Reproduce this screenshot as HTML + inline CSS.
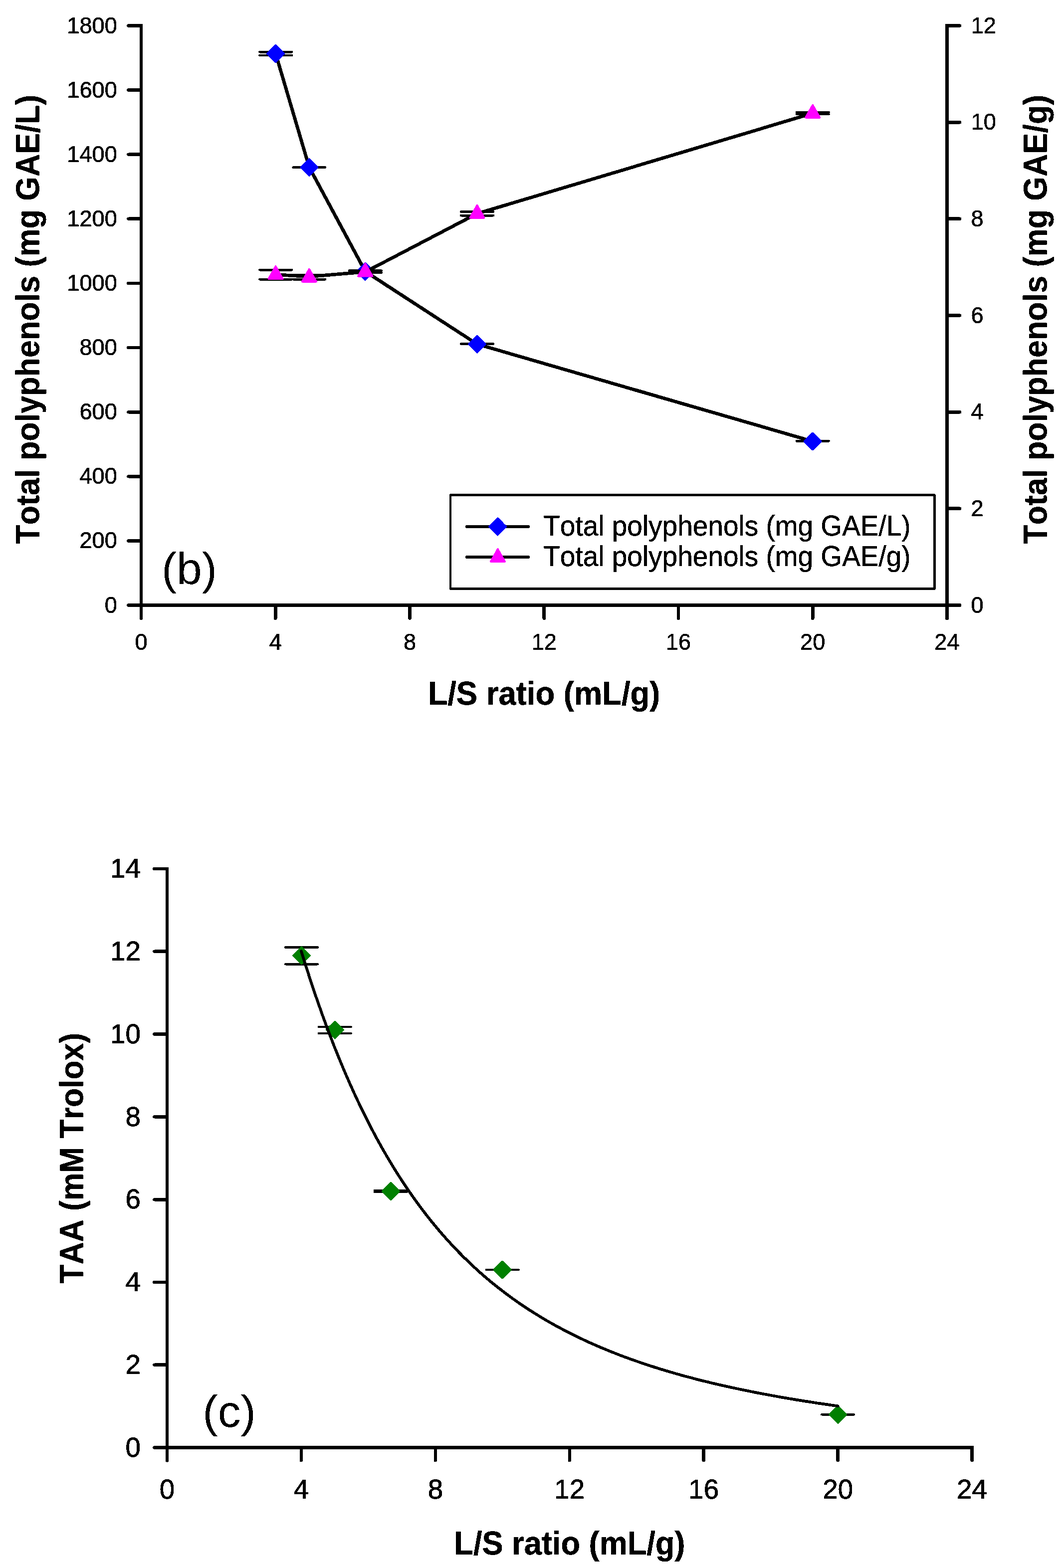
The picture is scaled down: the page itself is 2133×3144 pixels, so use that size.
<!DOCTYPE html>
<html lang="en"><head><meta charset="utf-8"><title>Total polyphenols and TAA vs L/S ratio</title>
<style>html,body{margin:0;padding:0;background:#fff}svg{display:block}text{font-family:"Liberation Sans",sans-serif;font-kerning:none;fill:#000}</style></head><body>
<svg width="2133" height="3144" viewBox="0 0 2133 3144">
<rect width="2133" height="3144" fill="#fff"/>
<defs><filter id="crisp" filterUnits="userSpaceOnUse" x="0" y="0" width="2133" height="3144" color-interpolation-filters="sRGB"><feComponentTransfer><feFuncA type="discrete" tableValues="0 1"/></feComponentTransfer></filter></defs>
<g filter="url(#crisp)">
<g id="chart-b">
<line x1="283" y1="51.5" x2="283" y2="1239.75" stroke="#000" stroke-width="6.5" stroke-linecap="round"/>
<rect x="279.75" y="48.25" width="6.5" height="6.5" fill="#000"/>
<line x1="1898.5" y1="51.5" x2="1898.5" y2="1239.75" stroke="#000" stroke-width="6.5" stroke-linecap="round"/>
<rect x="1895.25" y="48.25" width="6.5" height="6.5" fill="#000"/>
<line x1="257.5" y1="1213.5" x2="1924" y2="1213.5" stroke="#000" stroke-width="6.5" stroke-linecap="round"/>
<line x1="257.5" y1="1213.5" x2="282" y2="1213.5" stroke="#000" stroke-width="6.5" stroke-linecap="round"/>
<text transform="translate(234.9 1228.5) scale(0.4521 0.4700)" font-size="100" text-anchor="end" stroke="#000" stroke-width="1.1" stroke-linejoin="round">0</text>
<line x1="257.5" y1="1084.39" x2="282" y2="1084.39" stroke="#000" stroke-width="6.5" stroke-linecap="round"/>
<text transform="translate(234.9 1099.39) scale(0.4521 0.4700)" font-size="100" text-anchor="end" stroke="#000" stroke-width="1.1" stroke-linejoin="round">200</text>
<line x1="257.5" y1="955.28" x2="282" y2="955.28" stroke="#000" stroke-width="6.5" stroke-linecap="round"/>
<text transform="translate(234.9 970.28) scale(0.4521 0.4700)" font-size="100" text-anchor="end" stroke="#000" stroke-width="1.1" stroke-linejoin="round">400</text>
<line x1="257.5" y1="826.17" x2="282" y2="826.17" stroke="#000" stroke-width="6.5" stroke-linecap="round"/>
<text transform="translate(234.9 841.17) scale(0.4521 0.4700)" font-size="100" text-anchor="end" stroke="#000" stroke-width="1.1" stroke-linejoin="round">600</text>
<line x1="257.5" y1="697.06" x2="282" y2="697.06" stroke="#000" stroke-width="6.5" stroke-linecap="round"/>
<text transform="translate(234.9 712.06) scale(0.4521 0.4700)" font-size="100" text-anchor="end" stroke="#000" stroke-width="1.1" stroke-linejoin="round">800</text>
<line x1="257.5" y1="567.94" x2="282" y2="567.94" stroke="#000" stroke-width="6.5" stroke-linecap="round"/>
<text transform="translate(234.9 582.94) scale(0.4521 0.4700)" font-size="100" text-anchor="end" stroke="#000" stroke-width="1.1" stroke-linejoin="round">1000</text>
<line x1="257.5" y1="438.83" x2="282" y2="438.83" stroke="#000" stroke-width="6.5" stroke-linecap="round"/>
<text transform="translate(234.9 453.83) scale(0.4521 0.4700)" font-size="100" text-anchor="end" stroke="#000" stroke-width="1.1" stroke-linejoin="round">1200</text>
<line x1="257.5" y1="309.72" x2="282" y2="309.72" stroke="#000" stroke-width="6.5" stroke-linecap="round"/>
<text transform="translate(234.9 324.72) scale(0.4521 0.4700)" font-size="100" text-anchor="end" stroke="#000" stroke-width="1.1" stroke-linejoin="round">1400</text>
<line x1="257.5" y1="180.61" x2="282" y2="180.61" stroke="#000" stroke-width="6.5" stroke-linecap="round"/>
<text transform="translate(234.9 195.61) scale(0.4521 0.4700)" font-size="100" text-anchor="end" stroke="#000" stroke-width="1.1" stroke-linejoin="round">1600</text>
<line x1="257.5" y1="51.5" x2="282" y2="51.5" stroke="#000" stroke-width="6.5" stroke-linecap="round"/>
<text transform="translate(234.9 66.5) scale(0.4521 0.4700)" font-size="100" text-anchor="end" stroke="#000" stroke-width="1.1" stroke-linejoin="round">1800</text>
<line x1="1899.5" y1="1213.5" x2="1924" y2="1213.5" stroke="#000" stroke-width="6.5" stroke-linecap="round"/>
<text transform="translate(1946.5 1228.5) scale(0.4521 0.4700)" font-size="100" text-anchor="start" stroke="#000" stroke-width="1.1" stroke-linejoin="round">0</text>
<line x1="1899.5" y1="1019.83" x2="1924" y2="1019.83" stroke="#000" stroke-width="6.5" stroke-linecap="round"/>
<text transform="translate(1946.5 1034.83) scale(0.4521 0.4700)" font-size="100" text-anchor="start" stroke="#000" stroke-width="1.1" stroke-linejoin="round">2</text>
<line x1="1899.5" y1="826.17" x2="1924" y2="826.17" stroke="#000" stroke-width="6.5" stroke-linecap="round"/>
<text transform="translate(1946.5 841.17) scale(0.4521 0.4700)" font-size="100" text-anchor="start" stroke="#000" stroke-width="1.1" stroke-linejoin="round">4</text>
<line x1="1899.5" y1="632.5" x2="1924" y2="632.5" stroke="#000" stroke-width="6.5" stroke-linecap="round"/>
<text transform="translate(1946.5 647.5) scale(0.4521 0.4700)" font-size="100" text-anchor="start" stroke="#000" stroke-width="1.1" stroke-linejoin="round">6</text>
<line x1="1899.5" y1="438.83" x2="1924" y2="438.83" stroke="#000" stroke-width="6.5" stroke-linecap="round"/>
<text transform="translate(1946.5 453.83) scale(0.4521 0.4700)" font-size="100" text-anchor="start" stroke="#000" stroke-width="1.1" stroke-linejoin="round">8</text>
<line x1="1899.5" y1="245.17" x2="1924" y2="245.17" stroke="#000" stroke-width="6.5" stroke-linecap="round"/>
<text transform="translate(1946.5 260.17) scale(0.4521 0.4700)" font-size="100" text-anchor="start" stroke="#000" stroke-width="1.1" stroke-linejoin="round">10</text>
<line x1="1899.5" y1="51.5" x2="1924" y2="51.5" stroke="#000" stroke-width="6.5" stroke-linecap="round"/>
<text transform="translate(1946.5 66.5) scale(0.4521 0.4700)" font-size="100" text-anchor="start" stroke="#000" stroke-width="1.1" stroke-linejoin="round">12</text>
<line x1="283" y1="1214.5" x2="283" y2="1239.75" stroke="#000" stroke-width="6.5" stroke-linecap="round"/>
<text transform="translate(283 1303.4) scale(0.4521 0.4700)" font-size="100" text-anchor="middle" stroke="#000" stroke-width="1.1" stroke-linejoin="round">0</text>
<line x1="552.25" y1="1214.5" x2="552.25" y2="1239.75" stroke="#000" stroke-width="6.5" stroke-linecap="round"/>
<text transform="translate(552.25 1303.4) scale(0.4521 0.4700)" font-size="100" text-anchor="middle" stroke="#000" stroke-width="1.1" stroke-linejoin="round">4</text>
<line x1="821.5" y1="1214.5" x2="821.5" y2="1239.75" stroke="#000" stroke-width="6.5" stroke-linecap="round"/>
<text transform="translate(821.5 1303.4) scale(0.4521 0.4700)" font-size="100" text-anchor="middle" stroke="#000" stroke-width="1.1" stroke-linejoin="round">8</text>
<line x1="1090.75" y1="1214.5" x2="1090.75" y2="1239.75" stroke="#000" stroke-width="6.5" stroke-linecap="round"/>
<text transform="translate(1090.75 1303.4) scale(0.4521 0.4700)" font-size="100" text-anchor="middle" stroke="#000" stroke-width="1.1" stroke-linejoin="round">12</text>
<line x1="1360" y1="1214.5" x2="1360" y2="1239.75" stroke="#000" stroke-width="6.5" stroke-linecap="round"/>
<text transform="translate(1360 1303.4) scale(0.4521 0.4700)" font-size="100" text-anchor="middle" stroke="#000" stroke-width="1.1" stroke-linejoin="round">16</text>
<line x1="1629.25" y1="1214.5" x2="1629.25" y2="1239.75" stroke="#000" stroke-width="6.5" stroke-linecap="round"/>
<text transform="translate(1629.25 1303.4) scale(0.4521 0.4700)" font-size="100" text-anchor="middle" stroke="#000" stroke-width="1.1" stroke-linejoin="round">20</text>
<line x1="1898.5" y1="1214.5" x2="1898.5" y2="1239.75" stroke="#000" stroke-width="6.5" stroke-linecap="round"/>
<text transform="translate(1898.5 1303.4) scale(0.4521 0.4700)" font-size="100" text-anchor="middle" stroke="#000" stroke-width="1.1" stroke-linejoin="round">24</text>
<text transform="translate(78 1090.73) rotate(-90) scale(0.6286 0.6691)" font-size="100" text-anchor="start" font-weight="bold" stroke="#000" stroke-width="0.7" stroke-linejoin="round">Total polyphenols (mg GAE/L)</text>
<text transform="translate(2098 1090.73) rotate(-90) scale(0.6286 0.6691)" font-size="100" text-anchor="start" font-weight="bold" stroke="#000" stroke-width="0.7" stroke-linejoin="round">Total polyphenols (mg GAE/g)</text>
<text transform="translate(858.52 1412.9) scale(0.6341 0.6691)" font-size="100" text-anchor="start" font-weight="bold" stroke="#000" stroke-width="0.7" stroke-linejoin="round">L/S ratio (mL/g)</text>
<text transform="translate(324.1 1171) scale(0.9075 0.8950)" font-size="100" text-anchor="start">(b)</text>
<line x1="520.3" y1="104.1" x2="584.9" y2="104.1" stroke="#000" stroke-width="4.6" stroke-linecap="round"/>
<line x1="520.3" y1="111" x2="584.9" y2="111" stroke="#000" stroke-width="4.6" stroke-linecap="round"/>
<line x1="587.6" y1="335.6" x2="652.2" y2="335.6" stroke="#000" stroke-width="4.6" stroke-linecap="round"/>
<line x1="700" y1="542.5" x2="764.6" y2="542.5" stroke="#000" stroke-width="4.6" stroke-linecap="round"/>
<line x1="700" y1="546.5" x2="764.6" y2="546.5" stroke="#000" stroke-width="4.6" stroke-linecap="round"/>
<line x1="924.2" y1="689.5" x2="988.8" y2="689.5" stroke="#000" stroke-width="4.6" stroke-linecap="round"/>
<line x1="1596.9" y1="884.4" x2="1661.5" y2="884.4" stroke="#000" stroke-width="4.6" stroke-linecap="round"/>
<polyline fill="none" stroke="#000" stroke-width="6.8" stroke-linejoin="round" stroke-linecap="round" points="552.6,107.5 619.9,335.4 732.3,544.3 956.5,690 1629.2,885"/>
<polygon points="552.6,90.8 569.3,107.5 552.6,124.2 535.9,107.5" fill="#0000ff" stroke="#0000ff" stroke-width="3.6" stroke-linejoin="round"/>
<polygon points="619.9,318.7 636.6,335.4 619.9,352.1 603.2,335.4" fill="#0000ff" stroke="#0000ff" stroke-width="3.6" stroke-linejoin="round"/>
<polygon points="732.3,527.6 749,544.3 732.3,561 715.6,544.3" fill="#0000ff" stroke="#0000ff" stroke-width="3.6" stroke-linejoin="round"/>
<polygon points="956.5,673.3 973.2,690 956.5,706.7 939.8,690" fill="#0000ff" stroke="#0000ff" stroke-width="3.6" stroke-linejoin="round"/>
<polygon points="1629.2,868.3 1645.9,885 1629.2,901.7 1612.5,885" fill="#0000ff" stroke="#0000ff" stroke-width="3.6" stroke-linejoin="round"/>
<line x1="520.3" y1="541.1" x2="584.9" y2="541.1" stroke="#000" stroke-width="4.6" stroke-linecap="round"/>
<line x1="520.3" y1="560.1" x2="584.9" y2="560.1" stroke="#000" stroke-width="4.6" stroke-linecap="round"/>
<line x1="587.6" y1="551.3" x2="652.2" y2="551.3" stroke="#000" stroke-width="4.6" stroke-linecap="round"/>
<line x1="587.6" y1="560.1" x2="652.2" y2="560.1" stroke="#000" stroke-width="4.6" stroke-linecap="round"/>
<line x1="700" y1="543" x2="764.6" y2="543" stroke="#000" stroke-width="4.6" stroke-linecap="round"/>
<line x1="700" y1="547" x2="764.6" y2="547" stroke="#000" stroke-width="4.6" stroke-linecap="round"/>
<line x1="924.2" y1="424.4" x2="988.8" y2="424.4" stroke="#000" stroke-width="4.6" stroke-linecap="round"/>
<line x1="924.2" y1="432.1" x2="988.8" y2="432.1" stroke="#000" stroke-width="4.6" stroke-linecap="round"/>
<line x1="1596.9" y1="225.3" x2="1661.5" y2="225.3" stroke="#000" stroke-width="4.6" stroke-linecap="round"/>
<line x1="1596.9" y1="228.9" x2="1661.5" y2="228.9" stroke="#000" stroke-width="4.6" stroke-linecap="round"/>
<polyline fill="none" stroke="#000" stroke-width="6.8" stroke-linejoin="round" stroke-linecap="round" points="552.6,550.6 619.9,554.6 732.3,545.2 956.5,428.3 1629.2,227.1"/>
<polygon points="552.6,533.8 566.9,559.1 538.3,559.1" fill="#ff00ff" stroke="#ff00ff" stroke-width="3.6" stroke-linejoin="round"/>
<polygon points="619.9,539.3 634.2,564.6 605.6,564.6" fill="#ff00ff" stroke="#ff00ff" stroke-width="3.6" stroke-linejoin="round"/>
<polygon points="732.3,528.4 746.6,553.7 718,553.7" fill="#ff00ff" stroke="#ff00ff" stroke-width="3.6" stroke-linejoin="round"/>
<polygon points="956.5,411.5 970.8,436.8 942.2,436.8" fill="#ff00ff" stroke="#ff00ff" stroke-width="3.6" stroke-linejoin="round"/>
<polygon points="1629.2,210.3 1643.5,235.6 1614.9,235.6" fill="#ff00ff" stroke="#ff00ff" stroke-width="3.6" stroke-linejoin="round"/>
<rect x="903" y="992.5" width="970.5" height="188.3" fill="none" stroke="#000" stroke-width="4.4" stroke-linejoin="round"/>
<line x1="936.1" y1="1055.9" x2="1058.9" y2="1055.9" stroke="#000" stroke-width="6.2" stroke-linecap="round"/>
<polygon points="997.6,1039.1 1014.4,1055.9 997.6,1072.7 980.8,1055.9" fill="#0000ff" stroke="#0000ff" stroke-width="3.6" stroke-linejoin="round"/>
<line x1="936.1" y1="1116.9" x2="1058.9" y2="1116.9" stroke="#000" stroke-width="6.2" stroke-linecap="round"/>
<polygon points="997.9,1100.8 1012.2,1126.1 983.6,1126.1" fill="#ff00ff" stroke="#ff00ff" stroke-width="3.6" stroke-linejoin="round"/>
<text transform="translate(1089.26 1074.3) scale(0.5499 0.5760)" font-size="100" text-anchor="start" stroke="#000" stroke-width="0.8" stroke-linejoin="round">Total polyphenols (mg GAE/L)</text>
<text transform="translate(1089.26 1135.2) scale(0.5499 0.5760)" font-size="100" text-anchor="start" stroke="#000" stroke-width="0.8" stroke-linejoin="round">Total polyphenols (mg GAE/g)</text>
</g>
<g id="chart-c">
<line x1="335" y1="1742" x2="335" y2="2928.25" stroke="#000" stroke-width="6.5" stroke-linecap="round"/>
<rect x="331.75" y="1738.75" width="6.5" height="6.5" fill="#000"/>
<line x1="309.5" y1="2902.5" x2="1948.6" y2="2902.5" stroke="#000" stroke-width="6.5" stroke-linecap="round"/>
<rect x="1945.35" y="2899.25" width="6.5" height="6.5" fill="#000"/>
<line x1="309.5" y1="2902.5" x2="334" y2="2902.5" stroke="#000" stroke-width="6.5" stroke-linecap="round"/>
<text transform="translate(282 2920.7) scale(0.5480 0.5570)" font-size="100" text-anchor="end" stroke="#000" stroke-width="1.5" stroke-linejoin="round">0</text>
<line x1="309.5" y1="2736.71" x2="334" y2="2736.71" stroke="#000" stroke-width="6.5" stroke-linecap="round"/>
<text transform="translate(282 2754.91) scale(0.5480 0.5570)" font-size="100" text-anchor="end" stroke="#000" stroke-width="1.5" stroke-linejoin="round">2</text>
<line x1="309.5" y1="2570.93" x2="334" y2="2570.93" stroke="#000" stroke-width="6.5" stroke-linecap="round"/>
<text transform="translate(282 2589.13) scale(0.5480 0.5570)" font-size="100" text-anchor="end" stroke="#000" stroke-width="1.5" stroke-linejoin="round">4</text>
<line x1="309.5" y1="2405.14" x2="334" y2="2405.14" stroke="#000" stroke-width="6.5" stroke-linecap="round"/>
<text transform="translate(282 2423.34) scale(0.5480 0.5570)" font-size="100" text-anchor="end" stroke="#000" stroke-width="1.5" stroke-linejoin="round">6</text>
<line x1="309.5" y1="2239.36" x2="334" y2="2239.36" stroke="#000" stroke-width="6.5" stroke-linecap="round"/>
<text transform="translate(282 2257.56) scale(0.5480 0.5570)" font-size="100" text-anchor="end" stroke="#000" stroke-width="1.5" stroke-linejoin="round">8</text>
<line x1="309.5" y1="2073.57" x2="334" y2="2073.57" stroke="#000" stroke-width="6.5" stroke-linecap="round"/>
<text transform="translate(282 2091.77) scale(0.5480 0.5570)" font-size="100" text-anchor="end" stroke="#000" stroke-width="1.5" stroke-linejoin="round">10</text>
<line x1="309.5" y1="1907.79" x2="334" y2="1907.79" stroke="#000" stroke-width="6.5" stroke-linecap="round"/>
<text transform="translate(282 1925.99) scale(0.5480 0.5570)" font-size="100" text-anchor="end" stroke="#000" stroke-width="1.5" stroke-linejoin="round">12</text>
<line x1="309.5" y1="1742" x2="334" y2="1742" stroke="#000" stroke-width="6.5" stroke-linecap="round"/>
<text transform="translate(282 1760.2) scale(0.5480 0.5570)" font-size="100" text-anchor="end" stroke="#000" stroke-width="1.5" stroke-linejoin="round">14</text>
<line x1="335" y1="2903.5" x2="335" y2="2928.25" stroke="#000" stroke-width="6.5" stroke-linecap="round"/>
<text transform="translate(335 3005.3) scale(0.5480 0.5570)" font-size="100" text-anchor="middle" stroke="#000" stroke-width="1.5" stroke-linejoin="round">0</text>
<line x1="603.93" y1="2903.5" x2="603.93" y2="2928.25" stroke="#000" stroke-width="6.5" stroke-linecap="round"/>
<text transform="translate(603.93 3005.3) scale(0.5480 0.5570)" font-size="100" text-anchor="middle" stroke="#000" stroke-width="1.5" stroke-linejoin="round">4</text>
<line x1="872.87" y1="2903.5" x2="872.87" y2="2928.25" stroke="#000" stroke-width="6.5" stroke-linecap="round"/>
<text transform="translate(872.87 3005.3) scale(0.5480 0.5570)" font-size="100" text-anchor="middle" stroke="#000" stroke-width="1.5" stroke-linejoin="round">8</text>
<line x1="1141.8" y1="2903.5" x2="1141.8" y2="2928.25" stroke="#000" stroke-width="6.5" stroke-linecap="round"/>
<text transform="translate(1141.8 3005.3) scale(0.5480 0.5570)" font-size="100" text-anchor="middle" stroke="#000" stroke-width="1.5" stroke-linejoin="round">12</text>
<line x1="1410.73" y1="2903.5" x2="1410.73" y2="2928.25" stroke="#000" stroke-width="6.5" stroke-linecap="round"/>
<text transform="translate(1410.73 3005.3) scale(0.5480 0.5570)" font-size="100" text-anchor="middle" stroke="#000" stroke-width="1.5" stroke-linejoin="round">16</text>
<line x1="1679.67" y1="2903.5" x2="1679.67" y2="2928.25" stroke="#000" stroke-width="6.5" stroke-linecap="round"/>
<text transform="translate(1679.67 3005.3) scale(0.5480 0.5570)" font-size="100" text-anchor="middle" stroke="#000" stroke-width="1.5" stroke-linejoin="round">20</text>
<line x1="1948.6" y1="2903.5" x2="1948.6" y2="2928.25" stroke="#000" stroke-width="6.5" stroke-linecap="round"/>
<text transform="translate(1948.6 3005.3) scale(0.5480 0.5570)" font-size="100" text-anchor="middle" stroke="#000" stroke-width="1.5" stroke-linejoin="round">24</text>
<text transform="translate(166 2573.62) rotate(-90) scale(0.6241 0.6691)" font-size="100" text-anchor="start" font-weight="bold" stroke="#000" stroke-width="0.7" stroke-linejoin="round">TAA (mM Trolox)</text>
<text transform="translate(910.44 3117) scale(0.6317 0.6691)" font-size="100" text-anchor="start" font-weight="bold" stroke="#000" stroke-width="0.7" stroke-linejoin="round">L/S ratio (mL/g)</text>
<text transform="translate(406.2 2861) scale(0.9160 0.8950)" font-size="100" text-anchor="start">(c)</text>
<line x1="572.2" y1="1899.4" x2="636.8" y2="1899.4" stroke="#000" stroke-width="4.6" stroke-linecap="round"/>
<line x1="572.2" y1="1933.2" x2="636.8" y2="1933.2" stroke="#000" stroke-width="4.6" stroke-linecap="round"/>
<line x1="639" y1="2059" x2="703.6" y2="2059" stroke="#000" stroke-width="4.6" stroke-linecap="round"/>
<line x1="639" y1="2072" x2="703.6" y2="2072" stroke="#000" stroke-width="4.6" stroke-linecap="round"/>
<line x1="751.1" y1="2387" x2="815.7" y2="2387" stroke="#000" stroke-width="4.6" stroke-linecap="round"/>
<line x1="751.1" y1="2390" x2="815.7" y2="2390" stroke="#000" stroke-width="4.6" stroke-linecap="round"/>
<line x1="974.9" y1="2546" x2="1039.5" y2="2546" stroke="#000" stroke-width="4.6" stroke-linecap="round"/>
<line x1="1647.3" y1="2836.3" x2="1711.9" y2="2836.3" stroke="#000" stroke-width="4.6" stroke-linecap="round"/>
<polygon points="604.5,1899.2 621.2,1915.9 604.5,1932.6 587.8,1915.9" fill="#008000" stroke="#008000" stroke-width="3.6" stroke-linejoin="round"/>
<polygon points="671.3,2048.3 688,2065 671.3,2081.7 654.6,2065" fill="#008000" stroke="#008000" stroke-width="3.6" stroke-linejoin="round"/>
<polygon points="783.4,2371.8 800.1,2388.5 783.4,2405.2 766.7,2388.5" fill="#008000" stroke="#008000" stroke-width="3.6" stroke-linejoin="round"/>
<polygon points="1007.2,2529.3 1023.9,2546 1007.2,2562.7 990.5,2546" fill="#008000" stroke="#008000" stroke-width="3.6" stroke-linejoin="round"/>
<polygon points="1679.6,2819.6 1696.3,2836.3 1679.6,2853 1662.9,2836.3" fill="#008000" stroke="#008000" stroke-width="3.6" stroke-linejoin="round"/>
<polyline fill="none" stroke="#000" stroke-width="5.7" stroke-linejoin="round" stroke-linecap="round" points="603.93,1907.28 614.8,1942.09 625.67,1975.46 636.53,2007.44 647.4,2038.11 658.26,2067.52 669.13,2095.73 680,2122.79 690.86,2148.76 701.73,2173.67 712.59,2197.59 723.46,2220.54 734.33,2242.58 745.19,2263.75 756.06,2284.08 766.92,2303.61 777.79,2322.37 788.66,2340.41 799.52,2357.74 810.39,2374.4 821.25,2390.43 832.12,2405.84 842.99,2420.67 853.85,2434.94 864.72,2448.67 875.58,2461.89 886.45,2474.61 897.32,2486.87 908.18,2498.68 919.05,2510.05 929.91,2521.01 940.78,2531.58 951.65,2541.77 962.51,2551.6 973.38,2561.07 984.24,2570.22 995.11,2579.05 1005.98,2587.57 1016.84,2595.79 1027.71,2603.74 1038.57,2611.41 1049.44,2618.83 1060.31,2626 1071.17,2632.93 1082.04,2639.63 1092.9,2646.11 1103.77,2652.38 1114.64,2658.45 1125.5,2664.33 1136.37,2670.01 1147.23,2675.52 1158.1,2680.86 1168.96,2686.03 1179.83,2691.04 1190.7,2695.9 1201.56,2700.61 1212.43,2705.19 1223.29,2709.62 1234.16,2713.92 1245.03,2718.1 1255.89,2722.16 1266.76,2726.1 1277.62,2729.92 1288.49,2733.64 1299.36,2737.25 1310.22,2740.77 1321.09,2744.18 1331.95,2747.5 1342.82,2750.74 1353.69,2753.88 1364.55,2756.94 1375.42,2759.92 1386.28,2762.82 1397.15,2765.65 1408.02,2768.4 1418.88,2771.08 1429.75,2773.7 1440.61,2776.25 1451.48,2778.73 1462.35,2781.15 1473.21,2783.52 1484.08,2785.82 1494.94,2788.07 1505.81,2790.27 1516.68,2792.41 1527.54,2794.5 1538.41,2796.55 1549.27,2798.54 1560.14,2800.49 1571.01,2802.4 1581.87,2804.26 1592.74,2806.08 1603.6,2807.86 1614.47,2809.6 1625.34,2811.3 1636.2,2812.96 1647.07,2814.59 1657.93,2816.18 1668.8,2817.74 1679.67,2819.26"/>
</g>
</g>
</svg></body></html>
